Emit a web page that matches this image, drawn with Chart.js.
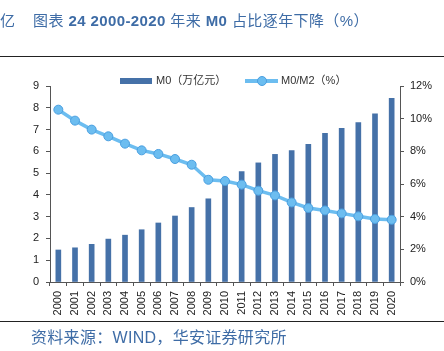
<!DOCTYPE html>
<html><head><meta charset="utf-8">
<script src="https://cdn.jsdelivr.net/npm/chart.js@4/dist/chart.umd.min.js"></script>
<style>
html,body{margin:0;padding:0;background:#fff;}
#wrap{position:relative;width:444px;height:351px;overflow:hidden;font-family:"Liberation Sans","Noto Sans CJK SC",sans-serif;}
#c{position:absolute;left:0;top:0;}
.t{position:absolute;white-space:nowrap;}
#title{left:0;top:9px;font-size:15px;color:#3e6ca6;}
#title b{font-weight:bold;}
#hline{position:absolute;left:0;top:56px;width:444px;height:1px;background:#222;}
#bline{position:absolute;left:0;top:321px;width:444px;height:1px;background:#222;}
#src{left:31px;top:324px;font-size:16px;color:#3e6ca6;letter-spacing:0.3px;}
.lg{position:absolute;top:71px;font-size:11px;color:#333;}
.sw{display:inline-block;vertical-align:middle;}
</style></head>
<body><div id="wrap">
<canvas id="c" width="444" height="351"></canvas>
<div class="t" id="title"><span>亿</span><span style="margin-left:18px;letter-spacing:0.4px">图表 <b>24 2000-2020</b> 年来 <b>M0</b> 占比逐年下降（%）</span></div>
<div id="hline"></div>
<div class="t lg" style="left:120px"><span class="sw" style="width:32px;height:6px;background:#4571a8;margin-right:4px"></span>M0（万亿元）</div>
<div class="t lg" style="left:245px"><span class="sw" style="position:relative;width:33px;height:10px;margin-right:3px"><span style="position:absolute;left:0;top:3px;width:33px;height:4px;background:#6cbdf0"></span><span style="position:absolute;left:12px;top:0;width:8px;height:8px;border-radius:50%;background:#6cbdf0;border:1px solid #4a9fe0"></span></span>M0/M2（%）</div>
<div id="bline"></div>
<div class="t" id="src">资料来源：WIND，华安证券研究所</div>
</div>
<script>
const years = ["2000","2001","2002","2003","2004","2005","2006","2007","2008","2009","2010","2011","2012","2013","2014","2015","2016","2017","2018","2019","2020"];
const m0 = [1.47,1.57,1.73,1.97,2.15,2.40,2.71,3.03,3.42,3.82,4.46,5.07,5.47,5.86,6.03,6.32,6.83,7.06,7.32,7.72,8.43];
const m0m2 = [10.55,9.88,9.33,8.92,8.47,8.06,7.84,7.53,7.18,6.26,6.18,5.96,5.59,5.30,4.87,4.53,4.38,4.20,4.02,3.86,3.81];
const leftTicks = [0,1,2,3,4,5,6,7,8,9];
const rightTicks = [0,2,4,6,8,10,12];

const tickFont = {family:"Liberation Sans", size:11};
new Chart(document.getElementById('c'), {
  data: {
    labels: years,
    datasets: [
      {type:'line', label:'M0/M2（%）', data:m0m2, yAxisID:'y1', borderColor:'#6cbdf0', backgroundColor:'#6cbdf0',
       borderWidth:3.5, pointRadius:4.5, pointBackgroundColor:'#6cbdf0', pointBorderColor:'#4a9fe0', pointBorderWidth:1, tension:0, order:0},
      {type:'bar', label:'M0（万亿元）', data:m0, yAxisID:'y', backgroundColor:'#4571a8', barThickness:5, order:1}
    ]
  },
  options: {
    responsive:false, animation:false, devicePixelRatio:1,
    layout:{padding:{top:86,left:0,right:0,bottom:0}},
    plugins:{legend:{display:false}, tooltip:{enabled:false}},
    scales:{
      x:{ticks:{font:tickFont,color:'#222',minRotation:90,maxRotation:90,autoSkip:false,padding:5},
         grid:{drawOnChartArea:false,drawTicks:true,tickLength:4,color:'#555',offset:true},
         border:{display:true,color:'#555'},
         afterFit:(s)=>{s.height=69;}},
      y:{position:'left',min:0,max:9,
         afterBuildTicks:(s)=>{s.ticks=leftTicks.map(v=>({value:v}));},
         ticks:{font:tickFont,color:'#222',padding:7},
         grid:{drawOnChartArea:false,drawTicks:true,tickLength:4,color:'#555'},
         border:{display:true,color:'#555'},
         afterFit:(s)=>{s.width=50;}},
      y1:{position:'right',min:0,max:12,
         afterBuildTicks:(s)=>{s.ticks=rightTicks.map(v=>({value:v}));},
         ticks:{font:tickFont,color:'#222',padding:6,callback:(v)=>v+'%'},
         grid:{drawOnChartArea:false,drawTicks:true,tickLength:4,color:'#555'},
         border:{display:true,color:'#555'},
         afterFit:(s)=>{s.width=44;}}
    }
  }
});
</script>
</body></html>
